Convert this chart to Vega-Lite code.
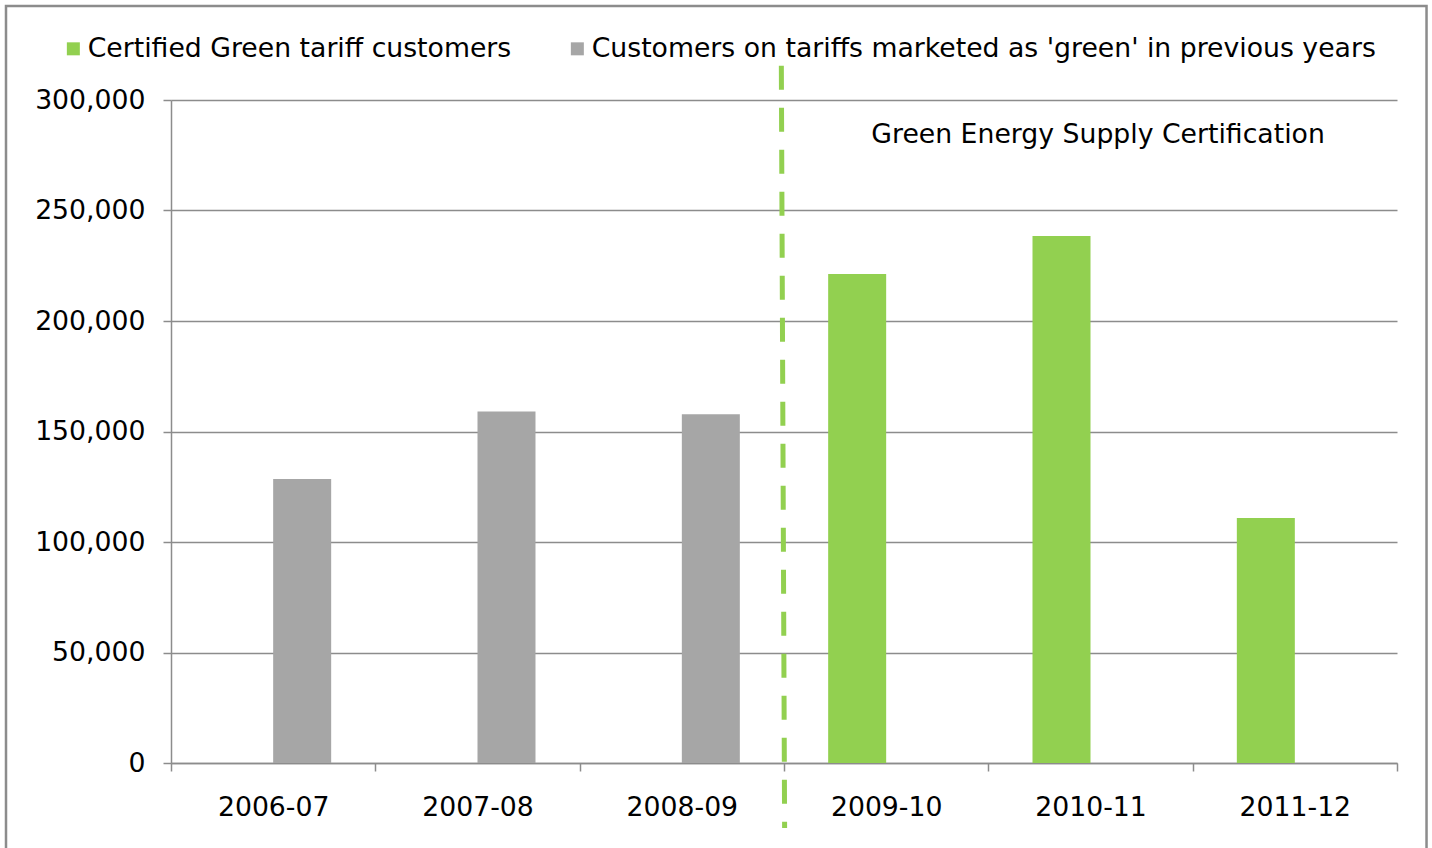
{
  "$schema": "https://vega.github.io/schema/vega-lite/v6.json",
  "width": 1226,
  "height": 663,
  "autosize": {"type": "none"},
  "padding": {"left": 171, "top": 100, "right": 35, "bottom": 85},
  "background": "white",
  "config": {"font": "DejaVu Sans", "view": {"stroke": null}},
  "datasets": {
    "customers": [
      {"period": "2006-07", "series": "Customers on tariffs marketed as 'green' in previous years", "customers": 128500},
      {"period": "2007-08", "series": "Customers on tariffs marketed as 'green' in previous years", "customers": 159000},
      {"period": "2008-09", "series": "Customers on tariffs marketed as 'green' in previous years", "customers": 157800},
      {"period": "2009-10", "series": "Certified Green tariff customers", "customers": 221300},
      {"period": "2010-11", "series": "Certified Green tariff customers", "customers": 238500},
      {"period": "2011-12", "series": "Certified Green tariff customers", "customers": 110900}
    ],
    "notes": [
      {"note": "Green Energy Supply Certification"}
    ]
  },
  "layer": [
    {
      "data": {"name": "customers"},
      "mark": {"type": "bar"},
      "encoding": {
        "x": {
          "field": "period", "type": "nominal", "sort": null,
          "scale": {"paddingInner": 0, "paddingOuter": 0},
          "axis": {
            "title": null, "labelAngle": 0, "labelFontSize": 26.7, "labelColor": "black",
            "labelPadding": 23, "tickBand": "extent", "tickSize": 8, "tickColor": "#8c8c8c",
            "tickWidth": 1.5, "domainColor": "#8c8c8c", "domainWidth": 1.5, "grid": false
          }
        },
        "xOffset": {
          "field": "series", "type": "nominal",
          "scale": {"domain": ["Certified Green tariff customers", "Customers on tariffs marketed as 'green' in previous years"], "paddingInner": 0, "paddingOuter": 0.7615}
        },
        "y": {
          "field": "customers", "type": "quantitative",
          "scale": {"domain": [0, 300000], "nice": false},
          "axis": {
            "title": null, "values": [0, 50000, 100000, 150000, 200000, 250000, 300000],
            "format": ",d", "labelFontSize": 26.7, "labelColor": "black", "labelPadding": 18,
            "tickSize": 8, "tickColor": "#8c8c8c", "tickWidth": 1.5,
            "domainColor": "#8c8c8c", "domainWidth": 1.5,
            "grid": true, "gridColor": "#8c8c8c", "gridWidth": 1.5
          }
        },
        "color": {
          "field": "series", "type": "nominal",
          "scale": {"domain": ["Certified Green tariff customers", "Customers on tariffs marketed as 'green' in previous years"], "range": ["#92D050", "#A6A6A6"]},
          "legend": {
            "title": null, "orient": "none", "legendX": -111, "legendY": -65,
            "direction": "horizontal", "symbolType": "square", "symbolSize": 169,
            "symbolStrokeWidth": 0, "labelFontSize": 26.7, "labelColor": "black",
            "labelOffset": 1, "labelLimit": 1000, "columnPadding": 52, "padding": 0
          }
        }
      }
    },
    {
      "data": {"values": [{}]},
      "mark": {"type": "rect", "fill": "transparent", "stroke": "#8c8c8c", "strokeWidth": 2.5, "clip": false},
      "encoding": {
        "x": {"datum": -0.8075, "type": "quantitative", "scale": {"domain": [0, 6], "nice": false, "zero": false}, "axis": null},
        "x2": {"datum": 6.1445},
        "y": {"datum": 342500, "type": "quantitative"},
        "y2": {"datum": -50000}
      }
    },
    {
      "data": {"values": [{}]},
      "mark": {"type": "rule", "color": "#92D050", "strokeWidth": 5, "strokeDash": [24, 18], "strokeCap": "butt", "clip": false},
      "encoding": {
        "x": {"datum": 2.987, "type": "quantitative", "scale": {"domain": [0, 6], "nice": false, "zero": false}, "axis": null},
        "x2": {"datum": 3.003},
        "y": {"datum": 315500, "type": "quantitative"},
        "y2": {"datum": -29400}
      }
    },
    {
      "data": {"name": "notes"},
      "mark": {"type": "text", "fontSize": 26.7, "color": "black", "align": "center", "baseline": "middle", "dy": 2, "clip": false},
      "encoding": {
        "x": {"datum": 4.537, "type": "quantitative", "scale": {"domain": [0, 6], "nice": false, "zero": false}, "axis": null},
        "y": {"datum": 285000, "type": "quantitative"},
        "text": {"field": "note", "type": "nominal"}
      }
    }
  ],
  "resolve": {"scale": {"x": "independent"}, "axis": {"x": "independent"}}
}
